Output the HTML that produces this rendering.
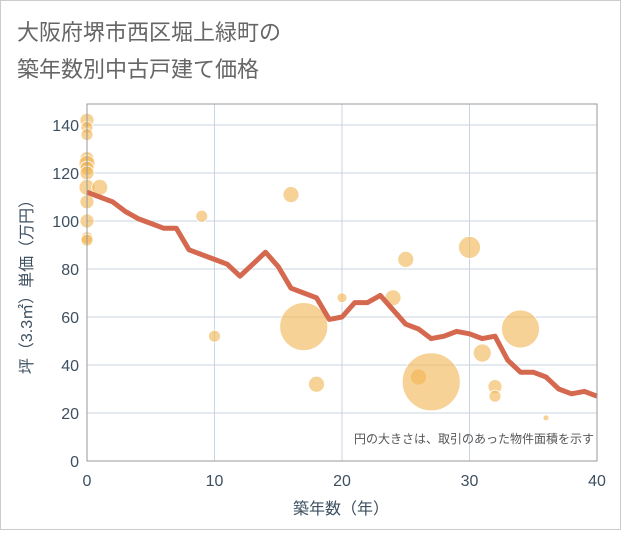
<!DOCTYPE html>
<html><head><meta charset="utf-8"><style>
body{margin:0;background:#fff;}
#wrap{width:619px;height:528px;border:1px solid #ccc;position:relative;background:#fff;font-family:"Liberation Sans","Noto Sans CJK JP",sans-serif;}
</style></head><body>
<div id="wrap">
<svg id="chart" width="619" height="528">
<text x="16" y="39" font-size="22" fill="#666">大阪府堺市西区堀上緑町の</text>
<text x="16" y="76" font-size="22" fill="#666">築年数別中古戸建て価格</text>
<g id="grid"></g><g id="bubbles"></g><g id="line"></g><g id="axes"></g>
<text x="593" y="442" font-size="12" fill="#555" text-anchor="end">円の大きさは、取引のあった物件面積を示す</text>
<text x="340" y="513" font-size="16" fill="#3d4f60" text-anchor="middle">築年数（年）</text>
<text transform="translate(31,282) rotate(-90)" font-size="16" fill="#3d4f60" text-anchor="middle">坪（3.3㎡）単価（万円）</text>
</svg></div>
<script>
const xTicks=[0,10,20,30,40];
const yTicks=[0,20,40,60,80,100,120,140];
const lineYears=[0,1,2,3,4,5,6,7,8,9,10,11,12,13,14,15,16,17,18,19,20,21,22,23,24,25,26,27,28,29,30,31,32,33,34,35,36,37,38,39,40];
const linePrices=[112,110,108,104,101,99,97,97,88,86,84,82,77,82,87,81,72,70,68,59,60,66,66,69,63,57,55,51,52,54,53,51,52,42,37,37,35,30,28,29,27];
const bubbleYears=[0,0,0,0,0,0,0,0,1,0,0,0,0,9,10,16,17,18,20,24,25,26,27,30,31,32,32,34,36];
const bubblePrices=[142,139,136,126,124,122,120,114,114,108,100,93,92,102,52,111,56,32,68,68,84,35,33,89,45,31,27,55,18];
const bubbleSizes=[7,6,6,7,8,7,7,8,8,7,7,6,6,6,6,8,24,8,5,8,8,8,29,11,9,7,6,19,3];
const L=86,R=596,T=103,B=460;
const sx=v=>L+(v-0)/(40-0)*(R-L);
const sy=v=>B-v*2.4;
const NS='http://www.w3.org/2000/svg';
function mk(tag,attrs,parent){const e=document.createElementNS(NS,tag);for(const k in attrs)e.setAttribute(k,attrs[k]);parent.appendChild(e);return e;}
const grid=document.getElementById('grid'),axes=document.getElementById('axes');
xTicks.forEach(t=>{
 const l=mk('line',{x1:sx(t),x2:sx(t),y1:T,y2:B,stroke:'#c8d6e2','stroke-width':1},grid);
 
 
 const tx=mk('text',{x:sx(t),y:B+25,'font-size':16,fill:'#3d4f60','text-anchor':'middle'},axes);
 tx.textContent=t;
 
 
});
yTicks.forEach(t=>{
 const l=mk('line',{x1:L,x2:R,y1:sy(t),y2:sy(t),stroke:'#c8d6e2','stroke-width':1},grid);
 
 
 const tx=mk('text',{x:L-8,y:sy(t)+6,'font-size':16,fill:'#3d4f60','text-anchor':'end'},axes);
 tx.textContent=t;
 
 
});
const frame=mk('rect',{x:L,y:T,width:R-L,height:B-T,fill:'none',stroke:'#999','stroke-width':1},axes);


const bg=document.getElementById('bubbles');
bubbleYears.forEach((x,i)=>{
 const c=mk('circle',{cx:sx(x),cy:sy(bubblePrices[i]),r:bubbleSizes[i],fill:'#f2b450','fill-opacity':0.6,stroke:'#fff','stroke-width':0.8},bg);
 
 
});
const pts=lineYears.map((x,i)=>sx(x)+','+sy(linePrices[i])).join(' ');
const pl=mk('polyline',{points:pts,fill:'none',stroke:'#d5694f','stroke-width':5,'stroke-linejoin':'round'},document.getElementById('line'));


</script>
</body></html>
